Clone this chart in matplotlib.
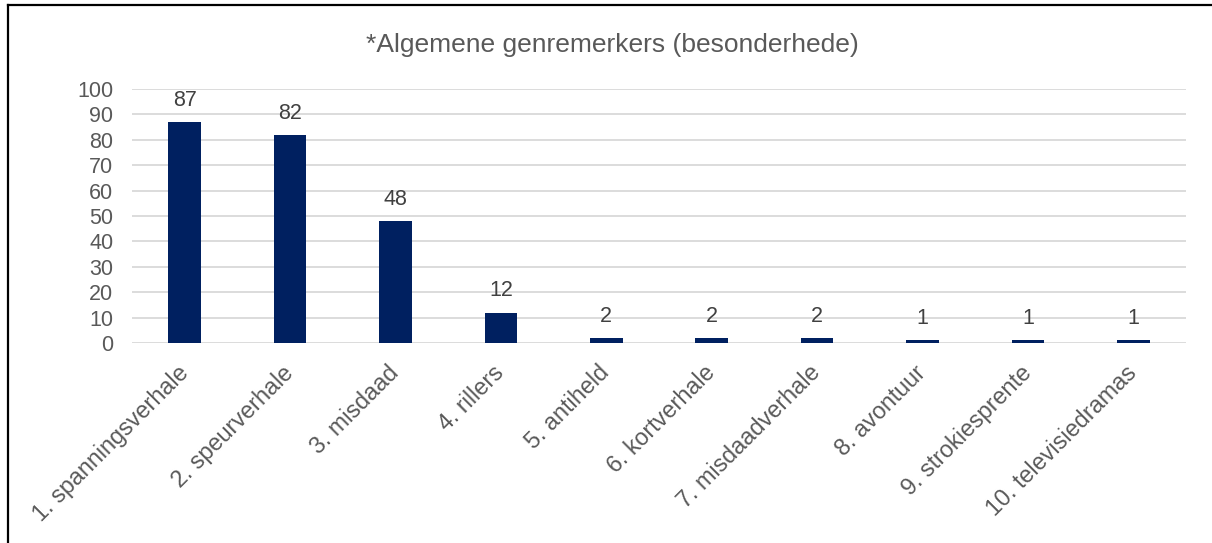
import matplotlib.pyplot as plt
from matplotlib.lines import Line2D

plt.rcParams['font.family'] = ['Liberation Sans', 'DejaVu Sans']

# data
categories = ['1. spanningsverhale', '2. speurverhale', '3. misdaad', '4. rillers',
              '5. antiheld', '6. kortverhale', '7. misdaadverhale', '8. avontuur',
              '9. strokiesprente', '10. televisiedramas']
counts = [87, 82, 48, 12, 2, 2, 2, 1, 1, 1]
yticks = [0, 10, 20, 30, 40, 50, 60, 70, 80, 90, 100]

fig = plt.figure(figsize=(12.12, 5.43), dpi=100)
ax = fig.add_axes([0.1089, 0.3683, 0.8696, 0.4677])

x = range(len(categories))
bars = ax.bar(x, counts, width=0.31, color='#002060', zorder=3)

for b, v in zip(bars, counts):
    ax.annotate(str(v), (b.get_x() + b.get_width() / 2, v), xytext=(0, 8),
                textcoords='offset points', ha='center', va='bottom',
                fontsize=15.5, color='#404040')

ax.set_xlim(-0.5, len(categories) - 0.5)
ax.set_ylim(0, 100)
ax.set_yticks(yticks)
ax.set_xticks(list(x))
ax.set_xticklabels(categories, rotation=45, ha='right', va='center',
                   rotation_mode='anchor')
ax.tick_params(axis='x', length=0, pad=19, labelsize=16.8, labelcolor='#595959')
ax.tick_params(axis='y', length=0, pad=13.5, labelsize=15.5, labelcolor='#595959')
ax.grid(axis='y', color='#d9d9d9', linewidth=1.3, zorder=0)
for s in ax.spines.values():
    s.set_visible(False)

fig.text(0.505, 0.918, '*Algemene genremerkers (besonderhede)', ha='center', va='center',
         fontsize=19, color='#595959')

# frame lines at top and left
fig.add_artist(Line2D([0.007, 1.0], [0.991, 0.991], color='black', linewidth=1.6,
                      transform=fig.transFigure))
fig.add_artist(Line2D([0.007, 0.007], [0.0, 0.991], color='black', linewidth=1.6,
                      transform=fig.transFigure))

fig.savefig('out.png', dpi=100)
